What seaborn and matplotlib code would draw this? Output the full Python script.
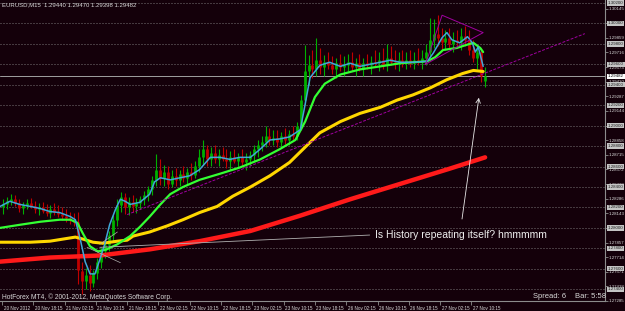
import numpy as np
import pandas as pd
import matplotlib
matplotlib.use("Agg")
import matplotlib.pyplot as plt
import matplotlib.transforms as mtransforms
import seaborn as sns

sns.set_theme(style="dark")
plt.rcParams['font.family'] = ['Liberation Sans', 'DejaVu Sans']

# ---------------- data ----------------
opens = [1.2820, 1.2823, 1.2826, 1.2828, 1.2824, 1.2819, 1.2822, 1.2824, 1.2821, 1.2818,
         1.2820, 1.2817, 1.2815, 1.2818, 1.2816, 1.2814, 1.2812, 1.2810, 1.2808, 1.2806,
         1.2758, 1.2748, 1.2754, 1.2746, 1.2756, 1.2767, 1.2777, 1.2783, 1.2793, 1.2808,
         1.2822, 1.2830, 1.2820, 1.2825, 1.2821, 1.2824, 1.2828, 1.2832, 1.2838, 1.2847,
         1.2857, 1.2849, 1.2855, 1.2843, 1.2851, 1.2847, 1.2853, 1.2849, 1.2855, 1.2852,
         1.2861, 1.2869, 1.2877, 1.2867, 1.2873, 1.2867, 1.2871, 1.2867, 1.2865, 1.2869,
         1.2865, 1.2869, 1.2864, 1.2867, 1.2871, 1.2877, 1.2881, 1.2884, 1.2890, 1.2886,
         1.2888, 1.2884, 1.2890, 1.2886, 1.2892, 1.2890, 1.2900, 1.2925, 1.2953, 1.2959,
         1.2955, 1.2964, 1.2957, 1.2962, 1.2959, 1.2955, 1.2961, 1.2957, 1.2959, 1.2962,
         1.2957, 1.2961, 1.2955, 1.2961, 1.2959, 1.2962, 1.2961, 1.2964, 1.2959, 1.2966,
         1.2962, 1.2961, 1.2964, 1.2962, 1.2964, 1.2961, 1.2964, 1.2962, 1.2966, 1.2972,
         1.2984, 1.2990, 1.2986, 1.2982, 1.2986, 1.2980, 1.2984, 1.2982, 1.2988, 1.2984,
         1.2974, 1.2966, 1.2972, 1.29440]
highs = [1.2828, 1.2830, 1.2833, 1.2832, 1.2828, 1.2825, 1.2828, 1.2829, 1.2826, 1.2824,
         1.2825, 1.2823, 1.2822, 1.2824, 1.2822, 1.2820, 1.2818, 1.2816, 1.2815, 1.2816,
         1.2767, 1.2761, 1.2764, 1.2759, 1.2771, 1.2781, 1.2789, 1.2797, 1.2813, 1.2828,
         1.2835, 1.2834, 1.2830, 1.2832, 1.2829, 1.2831, 1.2836, 1.2841, 1.2851, 1.2872,
         1.2867, 1.2862, 1.2861, 1.2857, 1.2859, 1.2857, 1.2861, 1.2859, 1.2863, 1.2865,
         1.2877, 1.2886, 1.2881, 1.2879, 1.2881, 1.2877, 1.2879, 1.2877, 1.2875, 1.2877,
         1.2873, 1.2877, 1.2873, 1.2875, 1.2881, 1.2886, 1.2890, 1.2900, 1.2898, 1.2896,
         1.2896, 1.2894, 1.2898, 1.2896, 1.2900, 1.2904, 1.2930, 1.2979, 1.2969, 1.2974,
         1.2986, 1.2976, 1.2969, 1.2972, 1.2968, 1.2966, 1.2970, 1.2968, 1.2970, 1.2972,
         1.2966, 1.2970, 1.2966, 1.2970, 1.2968, 1.2974, 1.2972, 1.2976, 1.2980, 1.2978,
         1.2974, 1.2972, 1.2974, 1.2972, 1.2974, 1.2972, 1.2976, 1.2974, 1.2980, 1.3005,
         1.3004, 1.3008, 1.2996, 1.2994, 1.2996, 1.2992, 1.2994, 1.2996, 1.2997, 1.2994,
         1.2984, 1.2979, 1.2976, 1.2957]
lows = [1.2814, 1.2818, 1.2822, 1.2821, 1.2816, 1.2814, 1.2818, 1.2819, 1.2815, 1.2813,
        1.2815, 1.2812, 1.2810, 1.2813, 1.2811, 1.2808, 1.2806, 1.2804, 1.2802, 1.2745,
        1.2735, 1.2740, 1.2738, 1.2742, 1.2750, 1.2761, 1.2771, 1.2777, 1.2787, 1.2802,
        1.2816, 1.2814, 1.2813, 1.2816, 1.2815, 1.2818, 1.2822, 1.2826, 1.2832, 1.2841,
        1.2842, 1.2841, 1.2838, 1.2840, 1.2841, 1.2841, 1.2845, 1.2843, 1.2847, 1.2849,
        1.2855, 1.2862, 1.2861, 1.2861, 1.2863, 1.2861, 1.2865, 1.2859, 1.2857, 1.2863,
        1.2859, 1.2861, 1.2857, 1.2861, 1.2865, 1.2869, 1.2875, 1.2879, 1.2881, 1.2881,
        1.2879, 1.2879, 1.2882, 1.2881, 1.2886, 1.2886, 1.2896, 1.2920, 1.2940, 1.2947,
        1.2949, 1.2951, 1.2949, 1.2955, 1.2951, 1.2947, 1.2953, 1.2949, 1.2953, 1.2953,
        1.2949, 1.2953, 1.2949, 1.2955, 1.2951, 1.2957, 1.2953, 1.2955, 1.2953, 1.2959,
        1.2955, 1.2953, 1.2957, 1.2955, 1.2957, 1.2955, 1.2959, 1.2955, 1.2959, 1.2966,
        1.2976, 1.2978, 1.2974, 1.2974, 1.2976, 1.2972, 1.2976, 1.2974, 1.2978, 1.2969,
        1.2962, 1.2955, 1.2943, 1.2938]
closes = [1.2823, 1.2826, 1.2828, 1.2824, 1.2819, 1.2822, 1.2824, 1.2821, 1.2818, 1.2820,
          1.2817, 1.2815, 1.2818, 1.2816, 1.2814, 1.2812, 1.2810, 1.2808, 1.2806, 1.2759,
          1.2748, 1.2754, 1.2746, 1.2756, 1.2767, 1.2777, 1.2783, 1.2793, 1.2808, 1.2822,
          1.2830, 1.2820, 1.2825, 1.2821, 1.2824, 1.2828, 1.2832, 1.2838, 1.2847, 1.2857,
          1.2849, 1.2855, 1.2843, 1.2851, 1.2847, 1.2853, 1.2849, 1.2855, 1.2852, 1.2861,
          1.2869, 1.2877, 1.2867, 1.2873, 1.2867, 1.2871, 1.2867, 1.2865, 1.2869, 1.2865,
          1.2869, 1.2864, 1.2867, 1.2871, 1.2877, 1.2881, 1.2884, 1.2890, 1.2886, 1.2888,
          1.2884, 1.2890, 1.2886, 1.2892, 1.2890, 1.2900, 1.2925, 1.2953, 1.2959, 1.2955,
          1.2964, 1.2957, 1.2962, 1.2959, 1.2955, 1.2961, 1.2957, 1.2959, 1.2962, 1.2957,
          1.2961, 1.2955, 1.2961, 1.2959, 1.2962, 1.2961, 1.2964, 1.2959, 1.2966, 1.2962,
          1.2961, 1.2964, 1.2962, 1.2964, 1.2961, 1.2964, 1.2962, 1.2966, 1.2972, 1.2984,
          1.2990, 1.2986, 1.2982, 1.2986, 1.2980, 1.2984, 1.2982, 1.2988, 1.2984, 1.2974,
          1.2966, 1.2972, 1.2949, 1.29482]

# moving averages: (bar index, price) knots
cyan_bar = [-2, 8, 18, 29, 39, 49, 59, 70, 75, 80, 85, 90, 95, 100, 105, 110, 116, 121, 126, 131,
            141, 151, 156, 162, 172, 182, 192, 202, 213, 223, 233, 243, 254, 264, 274, 284, 294,
            305, 310, 315, 325, 335, 346, 356, 366, 376, 387, 397, 407, 420, 435, 441, 450, 455,
            460, 468, 476, 481, 484, 487, 492]
cyan_ma = [1.2821, 1.2826, 1.2823, 1.2821, 1.2819, 1.2816, 1.2815, 1.2811, 1.2808, 1.2789,
           1.2767, 1.2755, 1.2755, 1.2769, 1.2784, 1.2803, 1.2818, 1.2828, 1.2826, 1.2823,
           1.2825, 1.2833, 1.2845, 1.2849, 1.2847, 1.2849, 1.2851, 1.2857, 1.2869, 1.2869,
           1.2867, 1.2869, 1.2869, 1.2877, 1.2886, 1.2887, 1.2889, 1.2896, 1.2921, 1.2947,
           1.2959, 1.2962, 1.2958, 1.2961, 1.2958, 1.2960, 1.2962, 1.2964, 1.2962, 1.2962,
           1.2963, 1.2971, 1.2986, 1.2991, 1.2984, 1.2981, 1.2987, 1.2981, 1.2972, 1.2977,
           1.2958]
green_bar = [-2, 18, 39, 59, 70, 77, 83, 90, 98, 107, 118, 131, 141, 151, 162, 172, 185, 202, 223,
             243, 264, 284, 300, 310, 320, 330, 346, 366, 387, 407, 435, 443, 451, 465, 475, 482,
             489, 492]
green_ma = [1.2800, 1.2803, 1.2806, 1.2808, 1.2808, 1.2805, 1.2794, 1.2782, 1.2777, 1.2779,
            1.2784, 1.2792, 1.2801, 1.2811, 1.2823, 1.2833, 1.2840, 1.2847, 1.2853, 1.2859,
            1.2867, 1.2877, 1.2886, 1.2904, 1.2928, 1.2941, 1.2950, 1.2955, 1.2958, 1.2961,
            1.2963, 1.2967, 1.2974, 1.2976, 1.2979, 1.2981, 1.2976, 1.2972]
yellow_bar = [-2, 29, 49, 75, 83, 93, 103, 118, 128, 134, 151, 169, 185, 202, 220, 236, 254, 274,
              294, 310, 325, 346, 366, 387, 404, 420, 438, 455, 471, 482, 492]
yellow_ma = [1.2786, 1.2786, 1.2787, 1.2791, 1.2789, 1.2786, 1.2785, 1.2787, 1.2788, 1.2792,
             1.2796, 1.2802, 1.2808, 1.2815, 1.2821, 1.2831, 1.2840, 1.2851, 1.2864, 1.2879,
             1.2893, 1.2904, 1.2912, 1.2918, 1.2925, 1.2930, 1.2937, 1.2945, 1.2951, 1.2954,
             1.2953]
red_bar = [-2, 49, 100, 151, 202, 254, 305, 356, 407, 458, 494]
red_ma = [1.2767, 1.2771, 1.2773, 1.2779, 1.2787, 1.2797, 1.2812, 1.2828, 1.2843, 1.2858, 1.2869]

level_prices = [1.3020, 1.3000, 1.2980, 1.2960, 1.2940, 1.2920, 1.2900, 1.2880,
                1.2860, 1.2840, 1.2820, 1.2800, 1.2780, 1.2760, 1.2740]
scale_ticks = [1.30145, 1.30002, 1.29859, 1.29716, 1.29573, 1.29430, 1.29287, 1.29144,
               1.29001, 1.28858, 1.28715, 1.28572, 1.28429, 1.28286, 1.28143, 1.28000,
               1.27857, 1.27714, 1.27571, 1.27428, 1.27285]
time_labels = ["20 Nov 2012", "20 Nov 18:15", "21 Nov 02:15", "21 Nov 10:15", "21 Nov 18:15",
               "22 Nov 02:15", "22 Nov 10:15", "22 Nov 18:15", "23 Nov 02:15", "23 Nov 10:15",
               "23 Nov 18:15", "26 Nov 02:15", "26 Nov 10:15", "26 Nov 18:15", "27 Nov 02:15",
               "27 Nov 10:15"]
bid_price = 1.29482

# drawn objects (bar index, price)
purple_trend_bar = [128, 596]
purple_trend_price = [1.2813, 1.2990]
triangle_bar = [433, 492, 450]
triangle_price = [1.2960, 1.2991, 1.3008]
gray_long_bar = [100, 376]
gray_long_price = [1.2781, 1.2793]
gray_x1_bar = [87, 121]
gray_x1_price = [1.2781, 1.2766]
gray_x2_bar = [100, 118]
gray_x2_price = [1.2784, 1.2796]
arrow_bar = [470, 488]
arrow_price = [1.2806, 1.2930]
note_text = "Is History repeating itself? hmmmmm"
note_bar, note_price = 381, 1.2793

# ---------------- figure ----------------
BG = '#14000a'
FG = '#d8d8d8'
AX = '#8c8c8c'
fig = plt.figure(figsize=(6.25, 3.11), dpi=100, facecolor=BG)
ax = fig.add_axes([0, 10/311, 605/625, 301/311])
ax.set_facecolor(BG)
ax.set_xlim(-2.05, 616.6)
ax.set_ylim(1.27292, 1.30229)

# level lines (dotted)
for p in level_prices:
    ax.axhline(p, color='#8a8a8a', lw=0.6, ls=(0, (1.2, 2.4)), zorder=1)

# candles
bars = np.arange(len(closes)) * 4 + 1.5
df = pd.DataFrame({'bar': bars, 'o': opens, 'h': highs, 'l': lows, 'c': closes})
up = df['c'] >= df['o']
for mask, col in [(up, '#00b000'), (~up, '#c00000')]:
    d = df[mask]
    ax.vlines(d['bar'], d['l'], d['h'], color=col, lw=0.8, zorder=2)
    ax.vlines(d['bar'], np.minimum(d['o'], d['c']), np.maximum(d['o'], d['c']),
              color=col, lw=2.0, zorder=2)

# bid line
ax.axhline(bid_price, color='#a0a0a0', lw=0.7, zorder=1.5)

# moving averages
sns.lineplot(x=red_bar, y=red_ma, color='#ff1a1a', lw=3.2, ax=ax, zorder=3)
sns.lineplot(x=yellow_bar, y=yellow_ma, color='#ffd700', lw=2.2, ax=ax, zorder=4)
sns.lineplot(x=green_bar, y=green_ma, color='#33ff33', lw=1.6, ax=ax, zorder=5)
sns.lineplot(x=cyan_bar, y=cyan_ma, color='#3fa8d8', lw=1.1, ax=ax, zorder=6)

# drawn objects
ax.plot(purple_trend_bar, purple_trend_price, color='#a000a0', lw=0.7, ls=(0, (3, 1.5)), zorder=7)
ax.plot(triangle_bar + triangle_bar[:1], triangle_price + triangle_price[:1],
        color='#a000a0', lw=0.7, zorder=7)
ax.plot(gray_long_bar, gray_long_price, color='#b0b0b0', lw=0.6, zorder=7)
ax.plot(gray_x1_bar, gray_x1_price, color='#b0b0b0', lw=0.5, zorder=7)
ax.plot(gray_x2_bar, gray_x2_price, color='#b0b0b0', lw=0.5, zorder=7)
ax.annotate('', xy=(arrow_bar[1], arrow_price[1]), xytext=(arrow_bar[0], arrow_price[0]),
            arrowprops=dict(arrowstyle='->', color='#e8e8e8', lw=0.6,
                            mutation_scale=8), zorder=8)
ax.text(note_bar, note_price, note_text, color='#f0f0f0', fontsize=7.5,
        ha='left', va='center', zorder=8)

# axes styling
for s in ['top', 'left']:
    ax.spines[s].set_visible(False)
for s in ['right', 'bottom']:
    ax.spines[s].set_visible(True)
    ax.spines[s].set_color(AX)
    ax.spines[s].set_linewidth(0.8)
ax.grid(False)

ax.yaxis.tick_right()
ax.set_yticks(scale_ticks)
ax.set_yticklabels([f"{p:.5f}" for p in scale_ticks])
ax.tick_params(axis='y', length=2, width=0.6, color=AX, pad=0.8, labelsize=3.2,
               labelcolor=FG, right=True, left=False)
ax.set_xticks(np.arange(len(time_labels)) * 32)
ax.set_xticklabels(time_labels)
ax.tick_params(axis='x', length=3, width=0.6, color=AX, pad=0.5, labelsize=3.3,
               labelcolor=FG, bottom=True)
off = mtransforms.ScaledTranslation(1.5/100, 0, fig.dpi_scale_trans)
for lab in ax.get_xticklabels():
    lab.set_horizontalalignment('left')
    lab.set_transform(lab.get_transform() + off)
ax.set_xlabel('')
ax.set_ylabel('')

# level boxes on the price scale
ytr = ax.get_yaxis_transform()
for p in level_prices:
    ax.text(1.0 + 3/605, p, f"{p:.5f}", transform=ytr, ha='left', va='center',
            fontsize=3.2, color='#202020', clip_on=False, zorder=10,
            bbox=dict(boxstyle='square,pad=0.15', fc='#c4c4c4', ec='none'))
ax.text(1.0 + 3/605, bid_price, f"{bid_price:.5f}", transform=ytr, ha='left', va='center',
        fontsize=3.2, color='black', clip_on=False, zorder=11,
        bbox=dict(boxstyle='square,pad=0.15', fc='white', ec='none'))

# info texts
fig.text(2/625, 1 - 2/311, "EURUSD,M15  1.29440 1.29470 1.29398 1.29482", fontsize=4.3,
         color=FG, ha='left', va='top')
fig.text(2/625, 1 - 297/311, "HotForex MT4, \u00a9 2001-2012, MetaQuotes Software Corp.",
         fontsize=4.8, color=FG, ha='left', va='center')
fig.text(533/625, 1 - 296/311, "Spread: 6", fontsize=5.5, color=FG, ha='left', va='center')
fig.text(575/625, 1 - 296/311, "Bar: 5:58", fontsize=5.5, color=FG, ha='left', va='center')

fig.savefig('out.png', dpi=100, facecolor=BG)
